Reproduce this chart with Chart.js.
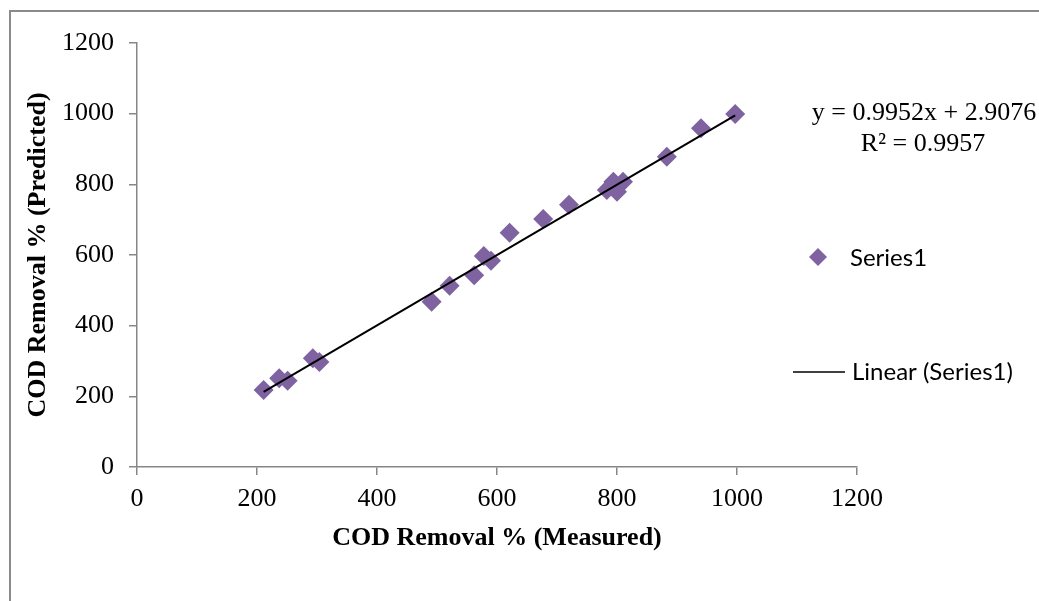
<!DOCTYPE html>
<html>
<head>
<meta charset="utf-8">
<script src="https://cdn.jsdelivr.net/npm/chart.js@4"></script>
<style>
  html, body { margin: 0; padding: 0; background: #ffffff; }
  #wrap { width: 1039px; height: 601px; }
</style>
</head>
<body>
<div id="wrap"><canvas id="c" width="1039" height="601"></canvas></div>
<script>
// ---- data ----
const measured  = [211, 237, 251, 293, 304, 491, 521, 562, 578, 590, 621, 677, 720, 783, 794, 800, 810, 883, 940, 997];
const predicted = [218, 251, 244, 308, 297, 468, 513, 543, 597, 584, 663, 702, 742, 784, 807, 779, 807, 878, 959, 999];
const trendSlope = 0.9952;
const trendIntercept = 2.9076;
const rSquared = 0.9957;
const xTicks = [0, 200, 400, 600, 800, 1000, 1200];
const yTicks = [0, 200, 400, 600, 800, 1000, 1200];
const seriesName = 'Series1';
const trendName = 'Linear (Series1)';
const xTitle = 'COD Removal % (Measured)';
const yTitle = 'COD Removal % (Predicted)';

const points = measured.map((x, i) => ({ x: x, y: predicted[i] }));
const xMin = Math.min(...measured), xMax = Math.max(...measured);
const trendPoints = [
  { x: xMin, y: trendSlope * xMin + trendIntercept },
  { x: xMax, y: trendSlope * xMax + trendIntercept }
];

const MARKER = '#7F63A1';
const AXIS = '#868686';
const SERIF = '"Liberation Serif", "Times New Roman", serif';
const SANS = 'Lato, Carlito, Calibri, sans-serif';

const decorPlugin = {
  id: 'decor',
  afterDraw(chart) {
    const ctx = chart.ctx;
    ctx.save();
    // outer frame (left & top edges)
    ctx.strokeStyle = '#8a8a8a';
    ctx.lineWidth = 2;
    ctx.beginPath();
    ctx.moveTo(10, 601);
    ctx.lineTo(10, 11);
    ctx.lineTo(1039, 11);
    ctx.stroke();

    // trendline equation
    ctx.fillStyle = '#000';
    ctx.font = '26px ' + SERIF;
    ctx.textAlign = 'center';
    ctx.textBaseline = 'alphabetic';
    ctx.fillText('y = ' + trendSlope.toFixed(4) + 'x + ' + trendIntercept.toFixed(4), 924, 120);
    ctx.fillText('R\u00B2 = ' + rSquared.toFixed(4), 923, 151);

    // legend
    const ds0 = chart.data.datasets[1];
    const r = 9, cx = 818, cy = 257;
    ctx.fillStyle = ds0.backgroundColor;
    ctx.beginPath();
    ctx.moveTo(cx, cy - r); ctx.lineTo(cx + r, cy); ctx.lineTo(cx, cy + r); ctx.lineTo(cx - r, cy);
    ctx.closePath(); ctx.fill();
    ctx.fillStyle = '#000';
    ctx.font = '24px ' + SANS;
    ctx.textAlign = 'left';
    ctx.textBaseline = 'middle';
    ctx.fillText(seriesName, 850, 258);
    ctx.strokeStyle = '#000';
    ctx.lineWidth = 1.6;
    ctx.beginPath(); ctx.moveTo(793, 372); ctx.lineTo(845, 372); ctx.stroke();
    ctx.fillText(trendName, 852, 372);
    ctx.restore();
  }
};

new Chart(document.getElementById('c'), {
  type: 'scatter',
  data: {
    datasets: [
      {
        label: trendName,
        data: trendPoints,
        showLine: true,
        borderColor: '#000000',
        borderWidth: 2,
        pointRadius: 0,
        pointHoverRadius: 0,
        fill: false
      },
      {
        label: seriesName,
        data: points,
        pointStyle: 'rectRot',
        pointRadius: 10,
        pointHoverRadius: 10,
        backgroundColor: MARKER,
        borderColor: MARKER,
        borderWidth: 0
      }
    ]
  },
  options: {
    responsive: false,
    animation: false,
    devicePixelRatio: 1,
    layout: { padding: { left: 23, top: 43, right: 182, bottom: 47 } },
    plugins: { legend: { display: false }, tooltip: { enabled: false } },
    scales: {
      x: {
        type: 'linear',
        min: 0, max: 1200,
        afterBuildTicks(scale) { scale.ticks = xTicks.map(v => ({ value: v })); },
        afterFit(scale) { scale.height = 87; },
        ticks: { color: '#000', font: { family: SERIF, size: 26 }, padding: 9, maxRotation: 0,
                 callback: v => String(v) },
        grid: { display: true, drawOnChartArea: false, drawTicks: true, tickLength: 8, color: AXIS, lineWidth: 1.5 },
        border: { display: true, color: AXIS, width: 1.5 },
        title: { display: true, text: xTitle, color: '#000', padding: 0, font: { family: SERIF, size: 26, weight: 'bold' } }
      },
      y: {
        type: 'linear',
        min: 0, max: 1200,
        afterBuildTicks(scale) { scale.ticks = yTicks.map(v => ({ value: v })); },
        afterFit(scale) { scale.width = 114; },
        ticks: { color: '#000', font: { family: SERIF, size: 26 }, padding: 15,
                 callback: v => String(v) },
        grid: { display: true, drawOnChartArea: false, drawTicks: true, tickLength: 8, color: AXIS, lineWidth: 1.5 },
        border: { display: true, color: AXIS, width: 1.5 },
        title: { display: true, text: yTitle, color: '#000', padding: 0, font: { family: SERIF, size: 26, weight: 'bold' } }
      }
    }
  },
  plugins: [decorPlugin]
});
</script>
</body>
</html>
